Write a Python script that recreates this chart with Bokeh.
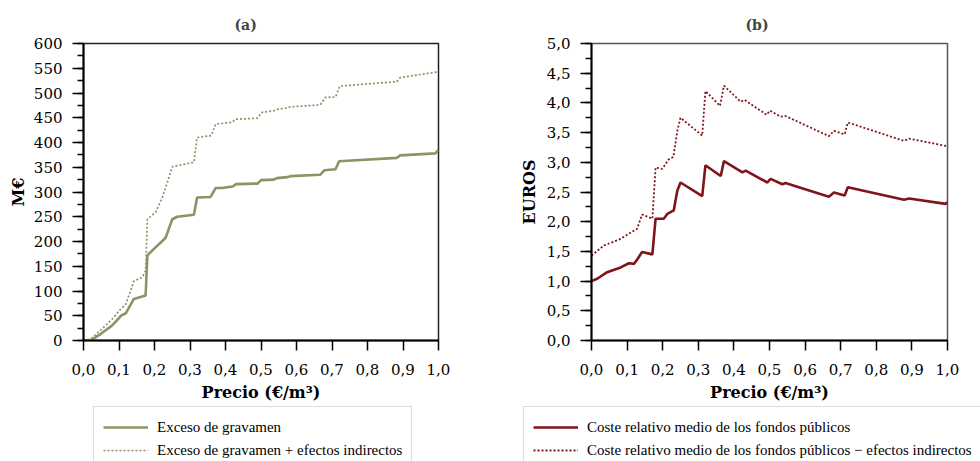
from bokeh.plotting import figure
from bokeh.models import (Range1d, SingleIntervalTicker, CustomJSTickFormatter,
                          Legend, LegendItem)
from bokeh.layouts import row
from bokeh.embed import file_html
from bokeh.resources import INLINE

# ---------------- data (panel a) ----------------
exceso_x = [0.0, 0.02, 0.05, 0.08, 0.10, 0.105, 0.119, 0.142, 0.17, 0.175, 0.18, 0.194,
            0.231, 0.25, 0.264, 0.311, 0.32, 0.358, 0.372, 0.39, 0.42, 0.43, 0.49, 0.50,
            0.536, 0.545, 0.573, 0.583, 0.667, 0.679, 0.71, 0.72, 0.883, 0.892, 0.991, 1.0]
exceso_y = [0, 0, 14, 30, 45, 50, 55, 84, 90, 91, 172, 182,
            207, 245, 250, 254, 289, 290, 308, 308, 311, 316, 317, 324,
            325, 328, 330, 332, 335, 344, 346, 362, 369, 374, 378, 385]

exceso_ind_x = [0.0, 0.02, 0.05, 0.086, 0.10, 0.119, 0.142, 0.166, 0.175, 0.18, 0.203, 0.222,
                0.236, 0.25, 0.311, 0.32, 0.36, 0.372, 0.419, 0.428, 0.489, 0.503, 0.536,
                0.545, 0.574, 0.583, 0.667, 0.681, 0.71, 0.722, 0.883, 0.892, 1.0]
exceso_ind_y = [0, 3, 22, 47, 60, 73, 120, 128, 141, 245, 259, 289,
                319, 351, 360, 410, 414, 437, 441, 447, 449, 461, 464,
                467, 470, 472, 476, 491, 492, 514, 523, 531, 543]

# ---------------- data (panel b) ----------------
coste_x = [0.0, 0.016, 0.044, 0.082, 0.105, 0.119, 0.128, 0.142, 0.171, 0.18, 0.203, 0.213,
           0.231, 0.241, 0.25, 0.311, 0.32, 0.363, 0.372, 0.424, 0.433, 0.494, 0.503, 0.536,
           0.545, 0.578, 0.667, 0.681, 0.711, 0.72, 0.878, 0.892, 0.995, 1.0]
coste_y = [1.00, 1.04, 1.15, 1.23, 1.30, 1.29, 1.36, 1.49, 1.45, 2.05, 2.05, 2.13,
           2.19, 2.52, 2.66, 2.43, 2.95, 2.77, 3.02, 2.83, 2.86, 2.66, 2.72, 2.63,
           2.65, 2.59, 2.42, 2.49, 2.44, 2.58, 2.37, 2.39, 2.30, 2.33]

coste_ind_x = [0.0, 0.035, 0.082, 0.105, 0.128, 0.142, 0.171, 0.18, 0.199, 0.217, 0.23,
               0.241, 0.25, 0.311, 0.32, 0.361, 0.372, 0.419, 0.43, 0.492, 0.501, 0.531,
               0.545, 0.667, 0.681, 0.711, 0.72, 0.878, 0.892, 1.0]
coste_ind_y = [1.43, 1.60, 1.71, 1.80, 1.88, 2.12, 2.05, 2.91, 2.89, 3.05, 3.09,
               3.53, 3.75, 3.45, 4.20, 3.95, 4.29, 4.02, 4.05, 3.80, 3.87, 3.77,
               3.78, 3.44, 3.53, 3.47, 3.67, 3.36, 3.40, 3.27]

titles = ["(a)", "(b)"]
x_label = "Precio (€/m³)"
y_labels = ["M€", "EUROS"]
legend_a = ["Exceso de gravamen", "Exceso de gravamen + efectos indirectos"]
legend_b = ["Coste relativo medio de los fondos públicos",
            "Coste relativo medio de los fondos públicos − efectos indirectos"]

FONT = "DejaVu Serif"
LFONT = "Liberation Serif"
OLIVE = "#8A9464"
DRED = "#7F1518"
W_SOLID = 2.6
W_DOT = 1.7


def style(p, y_interval, y_fmt, ylabel, title_offset, ylab_standoff):
    p.title.text_font = FONT
    p.title.text_font_size = "14px"
    p.title.text_font_style = "bold"
    p.title.align = "left"
    p.title.offset = title_offset
    p.title.standoff = 21
    p.xgrid.visible = False
    p.ygrid.visible = False
    p.outline_line_color = "#222222"
    p.outline_line_width = 1.5
    p.xaxis.ticker = SingleIntervalTicker(interval=0.1, num_minor_ticks=0)
    p.yaxis.ticker = SingleIntervalTicker(interval=y_interval, num_minor_ticks=2)
    p.xaxis.formatter = CustomJSTickFormatter(code="return tick.toFixed(1).replace('.', ',');")
    p.yaxis.formatter = CustomJSTickFormatter(code=y_fmt)
    for ax in (p.xaxis[0], p.yaxis[0]):
        ax.axis_line_color = "black"
        ax.axis_line_width = 2
        ax.major_tick_line_color = "black"
        ax.major_tick_line_width = 1.5
        ax.minor_tick_line_color = "black"
        ax.minor_tick_line_width = 1.5
        ax.major_tick_in = 0
        ax.minor_tick_in = 0
        ax.major_tick_out = 11
        ax.minor_tick_out = 6
        ax.major_label_text_font = FONT
        ax.major_label_text_font_size = "15px"
        ax.major_label_text_color = "black"
        ax.axis_label_text_font = FONT
        ax.axis_label_text_font_size = "16px"
        ax.axis_label_text_font_style = "bold"
        ax.axis_label_text_color = "black"
    p.xaxis.major_tick_out = 10
    p.xaxis.major_label_standoff = 13
    p.yaxis.major_label_standoff = 10
    p.xaxis.axis_label = x_label
    p.xaxis.axis_label_standoff = 5
    p.yaxis.axis_label = ylabel
    p.yaxis.axis_label_standoff = ylab_standoff


def make_legend(items, x_off):
    return Legend(items=items, location=(x_off, -10), orientation="vertical",
                  label_text_font=LFONT, label_text_font_size="15px",
                  label_text_color="black", label_standoff=9,
                  glyph_width=45, glyph_height=22, label_height=22,
                  spacing=1, padding=9, margin=0,
                  border_line_color="#BBBBBB", border_line_width=1,
                  background_fill_color="white", background_fill_alpha=1.0)


# ---------------- panel (a) ----------------
pa = figure(width=508, height=405, x_range=Range1d(0, 1.0), y_range=Range1d(0, 600),
            title=titles[0], output_backend="svg", toolbar_location=None,
            min_border_left=83, min_border_right=70, min_border_top=43,
            min_border_bottom=65, background_fill_color="white",
            border_fill_color="white")
style(pa, 50, "return tick.toFixed(0);", y_labels[0], 151, 3)
pa.line(exceso_x, exceso_y, line_color=OLIVE, line_width=W_SOLID)
pa.line(exceso_ind_x, exceso_ind_y, line_color=OLIVE, line_width=W_DOT, line_dash="2 2")

# ---------------- panel (b) ----------------
pb = figure(width=472, height=405, x_range=Range1d(0, 1.0), y_range=Range1d(0, 5),
            title=titles[1], output_backend="svg", toolbar_location=None,
            min_border_left=83, min_border_right=33, min_border_top=43,
            min_border_bottom=65, background_fill_color="white",
            border_fill_color="white")
style(pb, 0.5, "return tick.toFixed(1).replace('.', ',');", y_labels[1], 154, 5)
pb.outline_line_color = "#555555"
pb.line(coste_x, coste_y, line_color=DRED, line_width=W_SOLID)
pb.line(coste_ind_x, coste_ind_y, line_color=DRED, line_width=1.8, line_dash="2 2")

# ---------------- legend strip (series kept outside its visible y-range) ----------------
lf = figure(width=980, height=56, x_range=Range1d(0, 1), y_range=Range1d(-2, -1),
            output_backend="svg", toolbar_location=None,
            x_axis_location=None, y_axis_location=None,
            min_border_left=0, min_border_right=0, min_border_top=0,
            min_border_bottom=0, outline_line_color=None,
            background_fill_color="white", border_fill_color="white")
lf.xgrid.visible = False
lf.ygrid.visible = False
ka1 = lf.line(exceso_x, exceso_y, line_color=OLIVE, line_width=W_SOLID)
ka2 = lf.line(exceso_ind_x, exceso_ind_y, line_color=OLIVE, line_width=W_DOT, line_dash="2 2")
kb1 = lf.line(coste_x, coste_y, line_color=DRED, line_width=W_SOLID)
kb2 = lf.line(coste_ind_x, coste_ind_y, line_color=DRED, line_width=1.8, line_dash="2 2")
lf.add_layout(make_legend([LegendItem(label=legend_a[0], renderers=[ka1]),
                           LegendItem(label=legend_a[1], renderers=[ka2])], 93))
lf.add_layout(make_legend([LegendItem(label=legend_b[0], renderers=[kb1]),
                           LegendItem(label=legend_b[1], renderers=[kb2])], 523))

open("out.html", "w").write(file_html([row(pa, pb), lf], INLINE))
